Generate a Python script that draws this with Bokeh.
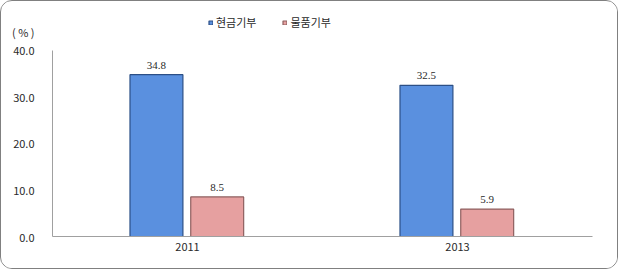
from bokeh.plotting import figure
from bokeh.models import (ColumnDataSource, FactorRange, Range1d, LabelSet, LinearAxis,
                          Legend, LegendItem, FixedTicker, NumeralTickFormatter)
from bokeh.transform import dodge
from bokeh.embed import file_html
from bokeh.resources import INLINE

years = ["2011", "2013"]
cash = [34.8, 32.5]
goods = [8.5, 5.9]
series_names = ["현금기부", "물품기부"]
y_ticks = [0, 10, 20, 30, 40]
unit_label = "( % )"
unit_pos = 43.9

FONT = "Noto Sans CJK KR"
TXT = "#2a2a2a"

src = ColumnDataSource(data=dict(
    year=years, cash=cash, goods=goods,
    cash_lbl=[f"{v:.1f}" for v in cash],
    goods_lbl=[f"{v:.1f}" for v in goods],
))

p = figure(width=618, height=269, x_range=FactorRange(factors=years),
           y_range=Range1d(0, 49.46), output_backend="svg", toolbar_location=None,
           min_border_left=51, min_border_right=27, min_border_top=5,
           min_border_bottom=34)
p.styles = {"border": "1px solid #808080", "border-radius": "12px", "overflow": "hidden"}
p.background_fill_color = "white"
p.border_fill_color = "white"
p.outline_line_color = None
p.xgrid.grid_line_color = None
p.ygrid.grid_line_color = None
p.x_range.range_padding = 0
p.x_range.group_padding = 0

bw = 0.196
r1 = p.vbar(x=dodge("year", -0.115, range=p.x_range), top="cash", width=bw, source=src,
            fill_color="#5a90df", line_color="#2c4f86", line_width=1.2)
r2 = p.vbar(x=dodge("year", 0.11, range=p.x_range), top="goods", width=bw, source=src,
            fill_color="#e6a0a0", line_color="#8e5f5f", line_width=1.2)

for col, off in (("cash", -0.115), ("goods", 0.11)):
    p.add_layout(LabelSet(x=dodge("year", off, range=p.x_range), y=col, text=col + "_lbl",
                          source=src, text_align="center", y_offset=6,
                          text_font=FONT, text_font_size="11px", text_color=TXT))

# axis line only (0..40)
yline = p.yaxis[0]
yline.ticker = FixedTicker(ticks=[])
yline.bounds = (0, 40)
yline.major_label_standoff = 0
yline.axis_line_color = "#a0a0a0"
yline.major_tick_line_color = None
yline.minor_tick_line_color = None

# labels axis (tick labels + unit)
ylab = LinearAxis(ticker=FixedTicker(ticks=y_ticks + [unit_pos]),
                  formatter=NumeralTickFormatter(format="0.0"),
                  major_label_overrides={unit_pos: unit_label})
ylab.axis_line_color = None
ylab.major_tick_line_color = None
ylab.minor_tick_line_color = None
ylab.major_label_standoff = 12
ylab.major_label_text_font = FONT
ylab.major_label_text_font_size = "11px"
ylab.major_label_text_color = TXT
p.add_layout(ylab, "left")

xa = p.xaxis[0]
xa.axis_line_color = "#a0a0a0"
xa.major_tick_line_color = None
xa.minor_tick_line_color = None
xa.major_tick_out = 0
xa.major_label_text_font = FONT
xa.major_label_text_font_size = "11px"
xa.major_label_text_color = TXT
xa.major_label_standoff = 6

legend = Legend(items=[LegendItem(label=series_names[0], renderers=[r1]),
                       LegendItem(label=series_names[1], renderers=[r2])],
                orientation="horizontal", location=(156, 206),
                glyph_width=5, glyph_height=5, label_text_font=FONT,
                label_text_font_size="11px", label_text_color=TXT,
                spacing=26, padding=0, margin=0, label_standoff=3,
                background_fill_alpha=0, border_line_color=None)
p.add_layout(legend, "center")

open("out.html", "w").write(file_html(p, INLINE))
